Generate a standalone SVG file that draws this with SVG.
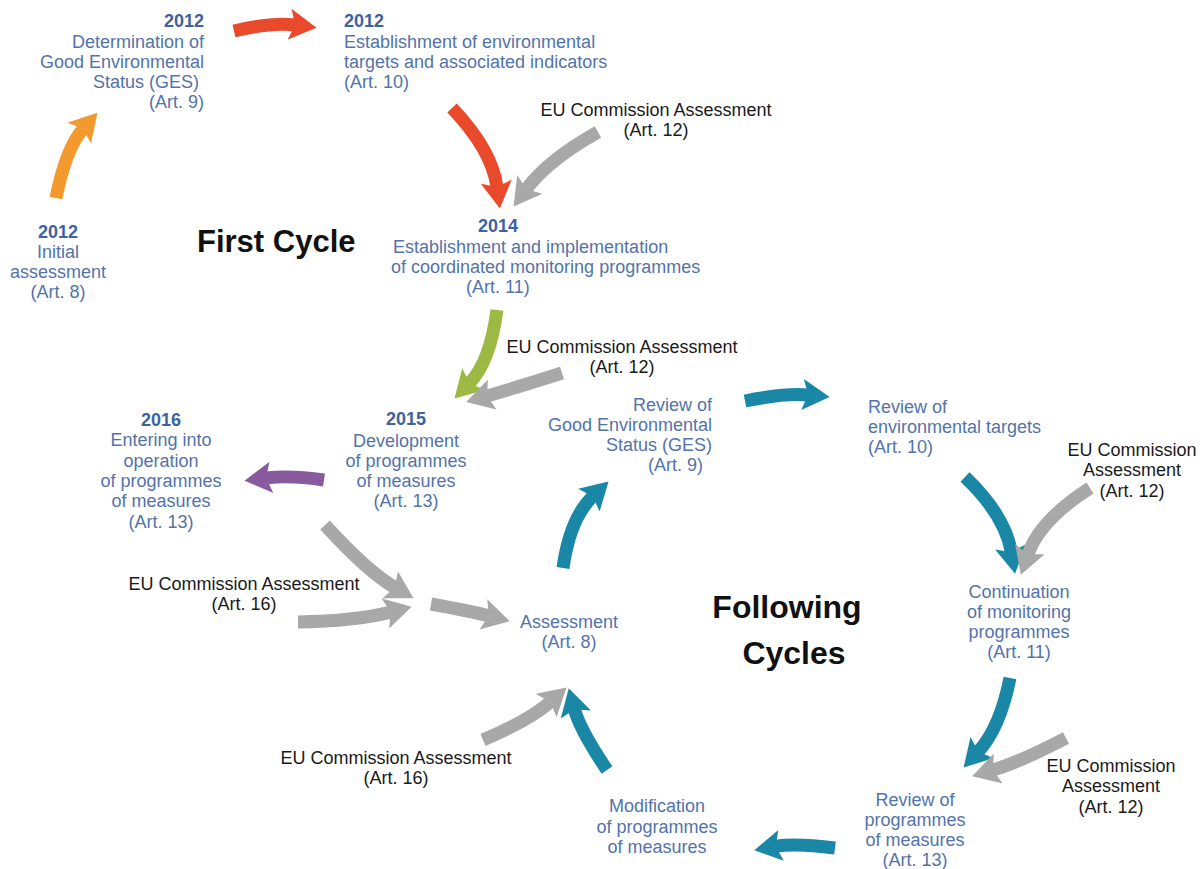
<svg xmlns="http://www.w3.org/2000/svg" width="1204" height="869" viewBox="0 0 1204 869">
<style>
text{font-family:"Liberation Sans",Arial,sans-serif;font-size:18px}
.b{fill:#5273ab}
.y{fill:#3d62a0;font-weight:bold}
.k{fill:#1a1a1a}
.t{fill:#111;font-weight:bold;font-size:31px}
.t2{font-size:32px}
.m{text-anchor:middle}
.e{text-anchor:end}
.a{fill:none;stroke-width:13}
</style>
<defs>
<marker id="hr" viewBox="0 0 20 23" markerWidth="2.1" markerHeight="2.4" refX="4" refY="11.5" orient="auto"><path d="M0,0 L20,11.5 L0,23 L4,11.5 z" fill="#e84a2b"/></marker>
<marker id="ho" viewBox="0 0 20 23" markerWidth="2.1" markerHeight="2.4" refX="4" refY="11.5" orient="auto"><path d="M0,0 L20,11.5 L0,23 L4,11.5 z" fill="#f3992d"/></marker>
<marker id="hg" viewBox="0 0 20 23" markerWidth="2.1" markerHeight="2.4" refX="4" refY="11.5" orient="auto"><path d="M0,0 L20,11.5 L0,23 L4,11.5 z" fill="#9cb944"/></marker>
<marker id="hp" viewBox="0 0 20 23" markerWidth="2.1" markerHeight="2.4" refX="4" refY="11.5" orient="auto"><path d="M0,0 L20,11.5 L0,23 L4,11.5 z" fill="#8a5a9e"/></marker>
<marker id="ht" viewBox="0 0 20 23" markerWidth="2.1" markerHeight="2.4" refX="4" refY="11.5" orient="auto"><path d="M0,0 L20,11.5 L0,23 L4,11.5 z" fill="#1b87a6"/></marker>
<marker id="hx" viewBox="0 0 20 23" markerWidth="2.1" markerHeight="2.4" refX="4" refY="11.5" orient="auto"><path d="M0,0 L20,11.5 L0,23 L4,11.5 z" fill="#a8a8a8"/></marker>
</defs>
<g id="connectors">
<path class="a" stroke="#f3992d" marker-end="url(#ho)" d="M56,198 Q66,148 83,129"/>
<path class="a" stroke="#e84a2b" marker-end="url(#hr)" d="M234,31 Q272,22 295,25"/>
<path class="a" stroke="#e84a2b" marker-end="url(#hr)" d="M452,108 Q492,150 497,187"/>
<path class="a" stroke="#a8a8a8" marker-end="url(#hx)" d="M598,132 Q548,160 526.5,189"/>
<path class="a" stroke="#9cb944" marker-end="url(#hg)" d="M497,310 Q490,362 469.6,383"/>
<path class="a" stroke="#a8a8a8" marker-end="url(#hx)" d="M562,373 Q515,388 487,396"/>
<path class="a" stroke="#8a5a9e" marker-end="url(#hp)" d="M324,480 Q290,475 266,478"/>
<path class="a" stroke="#1b87a6" marker-end="url(#ht)" d="M563,568 Q570,518 592.8,496.4"/>
<path class="a" stroke="#1b87a6" marker-end="url(#ht)" d="M745,401 Q785,393 808,395"/>
<path class="a" stroke="#1b87a6" marker-end="url(#ht)" d="M965,477 Q1005,515 1011.4,552.3"/>
<path class="a" stroke="#a8a8a8" marker-end="url(#hx)" d="M1090,488 Q1040,520 1028,554.2"/>
<path class="a" stroke="#1b87a6" marker-end="url(#ht)" d="M1010,678 Q1000,728 978.3,751.6"/>
<path class="a" stroke="#a8a8a8" marker-end="url(#hx)" d="M1066,738 Q1020,762 993,770"/>
<path class="a" stroke="#1b87a6" marker-end="url(#ht)" d="M835,848 Q795,843 775.7,846.4"/>
<path class="a" stroke="#a8a8a8" marker-end="url(#hx)" d="M325,525 Q368,572 394.8,587.5"/>
<path class="a" stroke="#a8a8a8" marker-end="url(#hx)" d="M298,622 Q355,621 390.6,612.1"/>
<path class="a" stroke="#a8a8a8" marker-end="url(#hx)" d="M431,604 Q470,611 488.7,615.8"/>
<path class="a" stroke="#a8a8a8" marker-end="url(#hx)" d="M483,740 Q530,720 550.3,701.9"/>
<path class="a" stroke="#1b87a6" marker-end="url(#ht)" d="M607,770 Q580,730 574.4,709.3"/>
</g>
<g id="ges2012">
<text class="y e" x="204" y="27">2012</text>
<text class="b e" x="204" y="48">Determination of</text>
<text class="b e" x="204" y="68">Good Environmental</text>
<text class="b e" x="199" y="88">Status (GES)</text>
<text class="b e" x="204" y="108">(Art. 9)</text>
</g>
<g id="targets2012">
<text class="y" x="344" y="27">2012</text>
<text class="b" x="344" y="48">Establishment of environmental</text>
<text class="b" x="344" y="68">targets and associated indicators</text>
<text class="b" x="344" y="88">(Art. 10)</text>
</g>
<g id="eu12a">
<text class="k m" x="656" y="116">EU Commission Assessment</text>
<text class="k m" x="656" y="136">(Art. 12)</text>
</g>
<g id="monitoring2014">
<text class="y" x="478" y="232">2014</text>
<text class="b" x="393" y="253">Establishment and implementation</text>
<text class="b" x="391" y="273">of coordinated monitoring programmes</text>
<text class="b" x="466" y="293">(Art. 11)</text>
</g>
<g id="title1"><text class="t" x="197" y="252">First Cycle</text></g>
<g id="initial2012">
<text class="y m" x="58" y="238">2012</text>
<text class="b m" x="58" y="258">Initial</text>
<text class="b m" x="58" y="278">assessment</text>
<text class="b m" x="58" y="298">(Art. 8)</text>
</g>
<g id="eu12b">
<text class="k m" x="622" y="353">EU Commission Assessment</text>
<text class="k m" x="622" y="373">(Art. 12)</text>
</g>
<g id="pom2015">
<text class="y m" x="406" y="425">2015</text>
<text class="b m" x="406" y="447">Development</text>
<text class="b m" x="406" y="467">of programmes</text>
<text class="b m" x="406" y="487">of measures</text>
<text class="b m" x="406" y="507">(Art. 13)</text>
</g>
<g id="operation2016">
<text class="y m" x="161" y="426">2016</text>
<text class="b m" x="161" y="446">Entering into</text>
<text class="b m" x="161" y="467">operation</text>
<text class="b m" x="161" y="487">of programmes</text>
<text class="b m" x="161" y="507">of measures</text>
<text class="b m" x="161" y="528">(Art. 13)</text>
</g>
<g id="reviewGes">
<text class="b e" x="712" y="411">Review of</text>
<text class="b e" x="712" y="431">Good Environmental</text>
<text class="b e" x="712" y="451">Status (GES)</text>
<text class="b e" x="703" y="471">(Art. 9)</text>
</g>
<g id="reviewTargets">
<text class="b" x="868" y="413">Review of</text>
<text class="b" x="868" y="433">environmental targets</text>
<text class="b" x="868" y="453">(Art. 10)</text>
</g>
<g id="eu12c">
<text class="k m" x="1132" y="456">EU Commission</text>
<text class="k m" x="1132" y="476">Assessment</text>
<text class="k m" x="1132" y="497">(Art. 12)</text>
</g>
<g id="continuation">
<text class="b m" x="1019" y="598">Continuation</text>
<text class="b m" x="1019" y="618">of monitoring</text>
<text class="b m" x="1019" y="638">programmes</text>
<text class="b m" x="1019" y="658">(Art. 11)</text>
</g>
<g id="title2">
<text class="t t2 m" x="787" y="618">Following</text>
<text class="t t2 m" x="794" y="664">Cycles</text>
</g>
<g id="assessment">
<text class="b m" x="569" y="628">Assessment</text>
<text class="b m" x="569" y="648">(Art. 8)</text>
</g>
<g id="eu16a">
<text class="k m" x="244" y="590">EU Commission Assessment</text>
<text class="k m" x="244" y="610">(Art. 16)</text>
</g>
<g id="eu16b">
<text class="k m" x="396" y="764">EU Commission Assessment</text>
<text class="k m" x="396" y="784">(Art. 16)</text>
</g>
<g id="modification">
<text class="b m" x="657" y="812">Modification</text>
<text class="b m" x="657" y="833">of programmes</text>
<text class="b m" x="657" y="853">of measures</text>
</g>
<g id="reviewPom">
<text class="b m" x="915" y="806">Review of</text>
<text class="b m" x="915" y="826">programmes</text>
<text class="b m" x="915" y="846">of measures</text>
<text class="b m" x="915" y="866">(Art. 13)</text>
</g>
<g id="eu12d">
<text class="k m" x="1111" y="772">EU Commission</text>
<text class="k m" x="1111" y="792">Assessment</text>
<text class="k m" x="1111" y="813">(Art. 12)</text>
</g>
</svg>
